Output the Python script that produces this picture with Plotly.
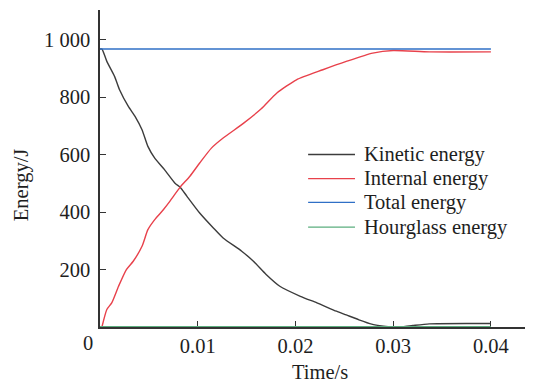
import plotly.graph_objects as go

# ---- data ----
t_kin = [0, 0.0002, 0.0007, 0.0015, 0.002, 0.0029, 0.0036, 0.0043, 0.0049, 0.0056,
         0.0066, 0.0077, 0.0082, 0.0089, 0.0102, 0.0116, 0.0126, 0.0145, 0.0157, 0.017,
         0.0184, 0.0205, 0.0222, 0.0242, 0.0252, 0.0265, 0.0278, 0.029, 0.0298, 0.031,
         0.032, 0.0337, 0.040]
e_kin = [968, 968, 925, 872, 826, 768, 733, 687, 629, 588,
         548, 500, 487, 455, 397, 345, 310, 264, 229, 183,
         142, 107, 84, 55, 42, 25, 10, 3, 0, 1,
         5, 11, 12]

t_int = [0.0002, 0.0007, 0.0012, 0.0019, 0.0027, 0.0034, 0.0043, 0.0049, 0.0056, 0.0065,
         0.0072, 0.0082, 0.0092, 0.0102, 0.0114, 0.0126, 0.0147, 0.0165, 0.0181, 0.0201,
         0.0228, 0.0252, 0.0279, 0.030, 0.0337, 0.040]
e_int = [0, 61, 84, 142, 200, 229, 281, 339, 374, 409,
         440, 487, 525, 571, 623, 658, 710, 760, 815, 861,
         896, 925, 954, 963, 958, 958]

t_tot = [0, 0.040]
e_tot = [968, 968]

t_hg = [0, 0.040]
e_hg = [0, 0]

names = ["Kinetic energy", "Internal energy", "Total energy", "Hourglass energy"]
colors = ["#3c3c3c", "#e8414b", "#2f6fc6", "#5bae7e"]
widths = [1.4, 1.4, 1.4, 2.2]

y_tickvals = [200, 400, 600, 800, 1000]
y_ticktext = ["200", "400", "600", "800", "1 000"]
x_tickvals = [0.01, 0.02, 0.03, 0.04]
x_ticktext = ["0.01", "0.02", "0.03", "0.04"]

FONT = "Liberation Serif"
FS = 20.5
TXT = "#1e1e1e"

fig = go.Figure()
series = [(t_kin, e_kin), (t_int, e_int), (t_tot, e_tot), (t_hg, e_hg)]
for (tx, ey), nm, c, w in zip(series, names, colors, widths):
    fig.add_trace(go.Scatter(x=tx, y=ey, mode="lines", name=nm, showlegend=False,
                             line=dict(color=c, width=w, shape="spline", smoothing=0.6)))

# the page body adds an 8px offset, so the figure is sized to fill the window after it
fig.update_layout(
    width=525, height=375,
    margin=dict(l=92, r=3, t=2, b=56),
    paper_bgcolor="white", plot_bgcolor="white",
    font=dict(family=FONT, size=FS, color=TXT),
    showlegend=False,
)
fig.update_xaxes(range=[0, 0.044], showline=True, linecolor="#333", linewidth=1.5,
                 ticks="inside", ticklen=6, tickcolor="#333", tickwidth=1.3,
                 tickvals=x_tickvals, ticktext=x_ticktext, showgrid=False, zeroline=False,
                 layer="below traces", automargin=False,
                 tickfont=dict(family=FONT, size=FS, color=TXT))
fig.update_yaxes(range=[0, 1104], showline=True, linecolor="#333", linewidth=1.5,
                 ticks="inside", ticklen=6, tickcolor="#333", tickwidth=1.3,
                 tickvals=y_tickvals, ticktext=y_ticktext, showgrid=False, zeroline=False,
                 layer="below traces", automargin=False, ticklabelstandoff=4,
                 tickfont=dict(family=FONT, size=FS, color=TXT))

# corner "0" label and axis titles
fig.add_annotation(text="0", xref="paper", yref="paper", x=-0.028, y=-0.05,
                   xanchor="center", yanchor="middle", showarrow=False,
                   font=dict(family=FONT, size=FS, color=TXT))
fig.add_annotation(text="Time/s", xref="paper", yref="paper", x=0.512, y=-0.142,
                   xanchor="center", yanchor="middle", showarrow=False,
                   font=dict(family=FONT, size=FS, color=TXT))
fig.add_annotation(text="Energy/J", xref="paper", yref="paper", x=-0.181, y=0.448,
                   xanchor="center", yanchor="middle", showarrow=False, textangle=-90,
                   font=dict(family=FONT, size=FS, color=TXT))

# legend (manual, to match the reference row spacing)
leg_rows_y = [0.544, 0.468, 0.393, 0.315]
for nm, c, ly in zip(names, colors, leg_rows_y):
    fig.add_shape(type="line", xref="paper", yref="paper", x0=0.484, x1=0.593, y0=ly, y1=ly,
                  line=dict(color=c, width=1.4))
    fig.add_annotation(text=nm, xref="paper", yref="paper", x=0.609, y=ly,
                       xanchor="left", yanchor="middle", showarrow=False,
                       font=dict(family=FONT, size=FS, color=TXT))

fig.write_html("out.html")
